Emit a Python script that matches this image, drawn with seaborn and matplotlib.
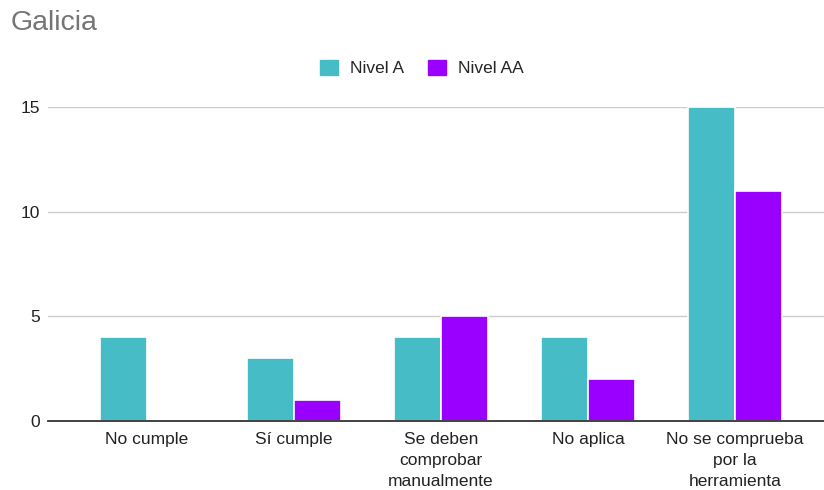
import matplotlib
matplotlib.use("Agg")
import matplotlib.pyplot as plt
import seaborn as sns
import pandas as pd
from matplotlib.patches import Patch

categories = ["No cumple", "Sí cumple", "Se deben\ncomprobar\nmanualmente",
              "No aplica", "No se comprueba\npor la\nherramienta"]
nivel_a = [4, 3, 4, 4, 15]
nivel_aa = [0, 1, 5, 2, 11]
series = ["Nivel A", "Nivel AA"]
colors = ["#46BDC6", "#9900FF"]
yticks = [0, 5, 10, 15]

df = pd.DataFrame({
    "cat": categories * 2,
    "val": nivel_a + nivel_aa,
    "serie": [series[0]] * len(categories) + [series[1]] * len(categories),
})

sns.set_theme(style="white")
plt.rcParams["font.family"] = ["Liberation Sans", "DejaVu Sans"]

fig = plt.figure(figsize=(8.24, 4.9), dpi=100)
ax = fig.add_axes([48 / 824, 1 - 421 / 490, 1 - 48 / 824, (421 - 107) / 490])

sns.barplot(data=df, x="cat", y="val", hue="serie", palette=colors,
            width=0.64, ax=ax, legend=False, edgecolor="white", linewidth=1.2,
            saturation=1)

ax.set_xlim(-0.673, 4.605)
ax.set_ylim(0, 15)
ax.set_yticks(yticks)
ax.set_yticklabels([str(t) for t in yticks], fontsize=12.5, color="#222222")
ax.tick_params(axis="x", labelsize=12.5, colors="#222222", length=0, pad=8)
ax.tick_params(axis="y", length=0, pad=6)
for lbl in ax.get_xticklabels():
    lbl.set_linespacing(1.5)
ax.set_xlabel("")
ax.set_ylabel("")
ax.yaxis.grid(True, color="#CCCCCC", linewidth=1)
ax.set_axisbelow(True)
for s in ["top", "right", "left"]:
    ax.spines[s].set_visible(False)
ax.spines["bottom"].set_color("#333333")
ax.spines["bottom"].set_linewidth(1.3)
ax.spines["bottom"].set_zorder(5)

fig.text(11 / 824, 1 - 23 / 490, "Galicia", fontsize=20.5, color="#757575",
         va="center", ha="left")

handles = [Patch(facecolor=c, edgecolor=c, label=s) for c, s in zip(colors, series)]
fig.legend(handles=handles, loc="center", bbox_to_anchor=(422 / 824, 1 - 68 / 490),
           ncol=2, frameon=False, fontsize=12.5, handlelength=1.0, handleheight=1.0,
           handletextpad=0.7, columnspacing=1.4)

fig.savefig("out.png", dpi=100)
